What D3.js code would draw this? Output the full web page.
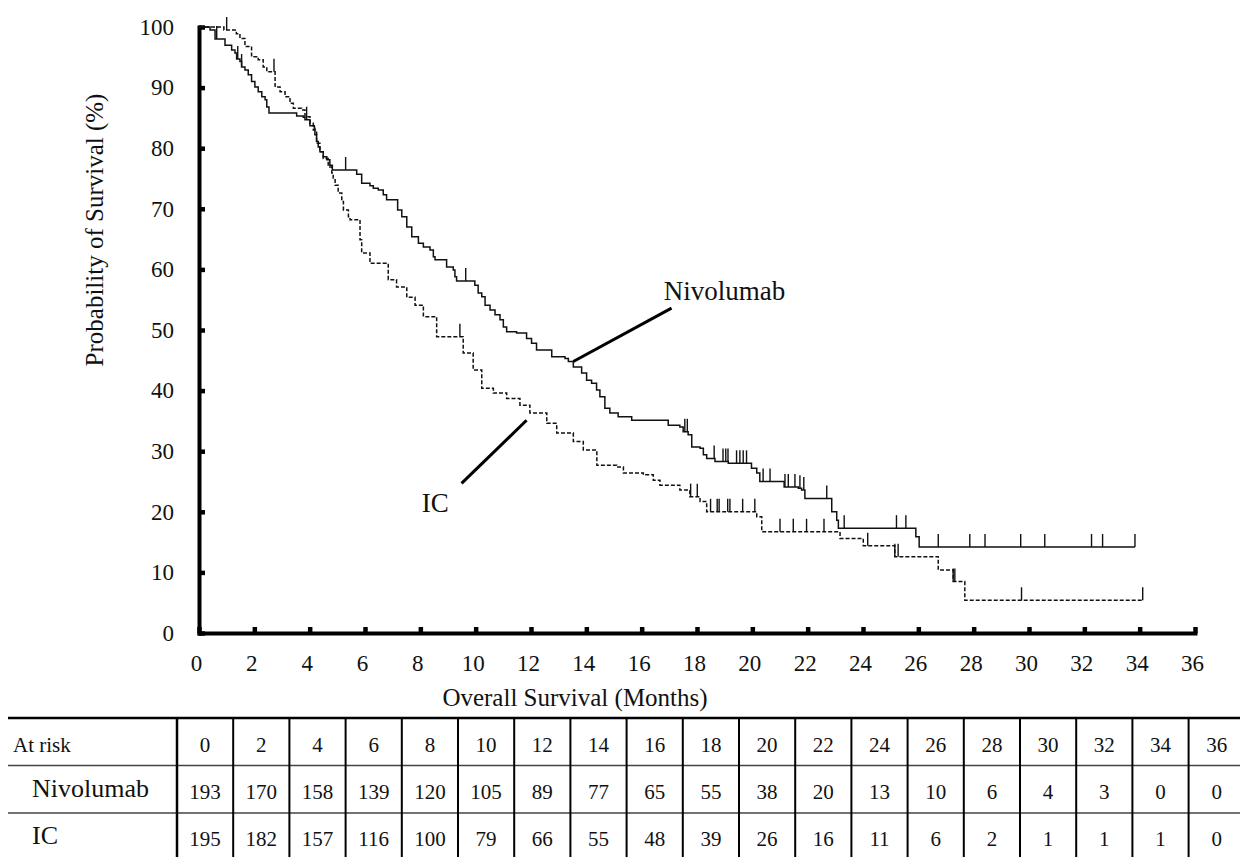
<!DOCTYPE html>
<html>
<head>
<meta charset="utf-8">
<title>Overall Survival - Nivolumab vs IC</title>
<script src="https://d3js.org/d3.v7.min.js"></script>
<style>
    body {
        margin: 0;
        background-color: #ffffff;
    }
    svg text {
        font-family: "Liberation Serif", "Times New Roman", serif;
        fill: #111;
    }
</style>
</head>
<body>
<div id="chart"></div>
<script>
// time points (months) used for axis ticks and the at-risk table
const months = [0, 2, 4, 6, 8, 10, 12, 14, 16, 18, 20, 22, 24, 26, 28, 30, 32, 34, 36];
const yTicks = [0, 10, 20, 30, 40, 50, 60, 70, 80, 90, 100];

// Kaplan-Meier steps: [month, survival % after the drop]
const nivoSteps = [
    [0, 100], [0.40, 99.5], [0.58, 98.0], [0.94, 97.0], [1.18, 96.2], [1.30, 95.7], [1.36, 94.7],
    [1.48, 94.3], [1.54, 93.4], [1.66, 92.9], [1.78, 92.1], [1.90, 91.0], [2.02, 90.1], [2.14, 89.3],
    [2.27, 88.5], [2.39, 88.0], [2.45, 86.8], [2.53, 85.8], [3.53, 85.3], [3.77, 85.1], [3.83, 84.7],
    [4.01, 83.7], [4.17, 83.3], [4.19, 82.2], [4.25, 81.1], [4.31, 80.2], [4.37, 79.4], [4.49, 78.6],
    [4.62, 78.1], [4.73, 77.2], [4.82, 76.4], [5.70, 75.7], [5.88, 74.2], [6.18, 73.8], [6.30, 73.4],
    [6.48, 73.1], [6.66, 72.3], [6.78, 71.5], [7.18, 69.8], [7.33, 68.7], [7.51, 67.0], [7.69, 65.4],
    [7.93, 64.3], [8.11, 63.7], [8.35, 63.2], [8.47, 62.1], [8.53, 61.6], [8.95, 60.4], [9.19, 59.9],
    [9.25, 58.8], [9.31, 58.1], [9.97, 57.4], [10.09, 56.1], [10.22, 55.5], [10.34, 54.1], [10.52, 53.3],
    [10.70, 52.5], [10.88, 51.7], [11.00, 50.5], [11.12, 49.7], [11.48, 49.5], [11.84, 48.6], [12.02, 47.8],
    [12.20, 46.7], [12.75, 45.6], [13.23, 45.3], [13.35, 44.8], [13.53, 43.9], [13.83, 42.9], [14.01, 41.7],
    [14.19, 41.2], [14.37, 40.1], [14.49, 39.0], [14.67, 37.1], [14.85, 36.3], [15.15, 35.7], [15.64, 35.1],
    [16.96, 34.3], [17.38, 34.0], [17.50, 33.2], [17.68, 32.7], [17.81, 30.7], [18.11, 30.5], [18.23, 29.4],
    [18.35, 28.8], [18.65, 28.3], [19.13, 28.0], [19.97, 27.2], [20.16, 26.4], [20.27, 25.0], [21.15, 24.1],
    [21.66, 23.9], [21.78, 23.6], [21.90, 22.2], [22.87, 20.0], [23.05, 18.6], [23.11, 17.3], [25.91, 15.9],
    [26.03, 14.2]
];
const nivoEnd = 33.83;
const nivoCensored = [0.64, 1.40, 1.54, 3.89, 5.30, 9.64, 17.56, 17.65, 18.62, 18.94, 19.04, 19.12,
    19.43, 19.55, 19.67, 19.79, 20.39, 20.64, 21.18, 21.30, 21.54, 21.72, 21.86, 22.69, 23.32,
    25.21, 25.55, 26.72, 27.86, 28.41, 29.70, 30.57, 32.26, 32.66, 33.83];

const icSteps = [
    [0, 100], [0.90, 99.5], [1.35, 98.9], [1.48, 98.1], [1.66, 96.8], [1.90, 95.1], [2.14, 94.6],
    [2.32, 93.4], [2.45, 92.6], [2.75, 90.1], [2.93, 89.3], [3.11, 88.5], [3.29, 87.4], [3.41, 86.6],
    [3.71, 86.3], [3.83, 85.2], [4.01, 84.1], [4.13, 83.0], [4.25, 80.8], [4.37, 79.4], [4.49, 78.3],
    [4.67, 76.9], [4.80, 75.9], [4.85, 74.8], [4.92, 73.9], [5.03, 72.6], [5.16, 71.2], [5.22, 69.8],
    [5.40, 68.7], [5.46, 68.2], [5.82, 64.9], [5.88, 62.7], [6.18, 61.0], [6.84, 58.3], [7.14, 57.1],
    [7.51, 55.4], [7.81, 54.1], [8.11, 52.2], [8.59, 48.9], [9.55, 46.2], [9.91, 43.4], [10.22, 40.4],
    [10.64, 39.6], [11.12, 38.7], [11.60, 37.6], [11.96, 36.3], [12.57, 34.6], [12.93, 33.0], [13.53, 31.6],
    [13.89, 30.2], [14.38, 27.7], [15.10, 27.4], [15.34, 26.4], [16.06, 26.1], [16.42, 25.2], [16.66, 24.4],
    [17.38, 23.6], [17.74, 22.5], [18.11, 21.7], [18.35, 20.0], [20.16, 19.2], [20.34, 16.7], [23.17, 15.6],
    [24.01, 14.4], [25.15, 12.6], [26.72, 10.4], [27.26, 8.5], [27.68, 5.4]
];
const icEnd = 34.11;
const icCensored = [1.00, 2.71, 9.43, 17.77, 18.01, 18.49, 18.73, 18.80, 19.11, 19.19, 19.65, 20.09,
    21.00, 21.48, 21.96, 22.59, 24.17, 25.15, 25.27, 27.26, 27.32, 29.73, 34.11];

// number at risk
const riskRows = ["Nivolumab", "IC"];
const atRiskNivo = [193, 170, 158, 139, 120, 105, 89, 77, 65, 55, 38, 20, 13, 10, 6, 4, 3, 0, 0];
const atRiskIC = [195, 182, 157, 116, 100, 79, 66, 55, 48, 39, 26, 16, 11, 6, 2, 1, 1, 1, 0];

// curve labels with their pointer lines, in data units
const annotations = [
    { text: "Nivolumab", tx: 16.8, ty: 55.0, from: [17.08, 53.6], to: [13.53, 44.8] },
    { text: "IC", tx: 8.05, ty: 20.0, from: [11.84, 35.1], to: [9.49, 24.7] }
];

const width = 1240;
const height = 857;

const x = d3.scaleLinear().domain([0, 36]).range([199, 1195]);
const y = d3.scaleLinear().domain([0, 100]).range([633, 27]);

const svg = d3.select('#chart').append('svg')
    .attr('width', width)
    .attr('height', height);

// axes
const xAxis = svg.append('g')
    .attr('transform', `translate(0, ${y(0)})`)
    .call(d3.axisBottom(x).tickValues(months).tickSize(-6).tickSizeOuter(0).tickPadding(22));
const yAxis = svg.append('g')
    .attr('transform', `translate(${x(0)}, 0)`)
    .call(d3.axisLeft(y).tickValues(yTicks).tickSize(-6).tickSizeOuter(0).tickPadding(25));

[xAxis, yAxis].forEach(g => {
    g.select('.domain').attr('stroke', '#000').attr('stroke-width', 4).attr('stroke-linecap', 'square');
    g.selectAll('.tick line').attr('stroke', '#000').attr('stroke-width', 4.5);
    g.selectAll('.tick text')
        .attr('font-size', 23)
        .attr('font-family', '"Liberation Serif", serif')
        .attr('fill', '#111');
});
xAxis.selectAll('.tick text').attr('dx', -3);

svg.append('text')
    .attr('x', 575)
    .attr('y', 706)
    .attr('text-anchor', 'middle')
    .attr('font-size', 25)
    .text('Overall Survival (Months)');

svg.append('text')
    .attr('transform', `translate(103, ${(y(0) + y(100)) / 2 - 100}) rotate(-90)`)
    .attr('text-anchor', 'middle')
    .attr('font-size', 25)
    .text('Probability of Survival (%)');

// survival curves
function levelAt(steps, t) {
    let s = steps[0][1];
    steps.forEach(d => { if (d[0] <= t) s = d[1]; });
    return s;
}

const line = d3.line()
    .x(d => x(d[0]))
    .y(d => y(d[1]))
    .curve(d3.curveStepAfter);

const curves = [
    { steps: nivoSteps, end: nivoEnd, censored: nivoCensored, dash: null },
    { steps: icSteps, end: icEnd, censored: icCensored, dash: '4,2' }
];

curves.forEach(c => {
    const pts = c.steps.concat([[c.end, c.steps[c.steps.length - 1][1]]]);
    svg.append('path')
        .datum(pts)
        .attr('fill', 'none')
        .attr('stroke', '#111')
        .attr('stroke-width', 1.5)
        .attr('stroke-dasharray', c.dash)
        .attr('d', line);

    svg.append('g').selectAll('line')
        .data(c.censored)
        .join('line')
        .attr('x1', d => x(d))
        .attr('x2', d => x(d))
        .attr('y1', d => y(levelAt(c.steps, d)))
        .attr('y2', d => y(levelAt(c.steps, d)) - 13)
        .attr('stroke', '#111')
        .attr('stroke-width', 1.4);
});

// annotations
annotations.forEach(a => {
    svg.append('line')
        .attr('x1', x(a.from[0])).attr('y1', y(a.from[1]))
        .attr('x2', x(a.to[0])).attr('y2', y(a.to[1]))
        .attr('stroke', '#000')
        .attr('stroke-width', 3);
    svg.append('text')
        .attr('x', x(a.tx))
        .attr('y', y(a.ty))
        .attr('font-size', 27)
        .text(a.text);
});

// at-risk table
const col = d3.scaleBand().domain(months).range([177, 177 + 56.2 * months.length]);
const rowTop = [718, 765.5, 813];
const tableBottom = 860;

svg.append('line')
    .attr('x1', 8).attr('x2', width)
    .attr('y1', rowTop[0]).attr('y2', rowTop[0])
    .attr('stroke', '#000').attr('stroke-width', 2.5);
svg.selectAll('.row-sep')
    .data(rowTop.slice(1))
    .join('line')
    .attr('class', 'row-sep')
    .attr('x1', 8).attr('x2', width)
    .attr('y1', d => d).attr('y2', d => d)
    .attr('stroke', '#444').attr('stroke-width', 1.5);
svg.selectAll('.col-sep')
    .data(months)
    .join('line')
    .attr('class', 'col-sep')
    .attr('x1', d => col(d)).attr('x2', d => col(d))
    .attr('y1', rowTop[0]).attr('y2', tableBottom)
    .attr('stroke', '#000')
    .attr('stroke-width', (d, i) => i === 0 ? 2.5 : 2);

svg.append('text')
    .attr('x', 13).attr('y', 752)
    .attr('font-size', 21)
    .text('At risk');
svg.selectAll('.hdr')
    .data(months)
    .join('text')
    .attr('class', 'hdr')
    .attr('x', d => col(d) + col.bandwidth() / 2)
    .attr('y', 752)
    .attr('text-anchor', 'middle')
    .attr('font-size', 21)
    .text(d => d);

[atRiskNivo, atRiskIC].forEach((vals, r) => {
    const base = [799, 846][r];
    svg.append('text')
        .attr('x', 32).attr('y', base - 2)
        .attr('font-size', 26)
        .text(riskRows[r]);
    svg.append('g').selectAll('text')
        .data(vals)
        .join('text')
        .attr('x', (d, i) => col(months[i]) + col.bandwidth() / 2)
        .attr('y', base)
        .attr('text-anchor', 'middle')
        .attr('font-size', 21)
        .attr('fill', '#222')
        .text(d => d);
});
</script>
</body>
</html>
